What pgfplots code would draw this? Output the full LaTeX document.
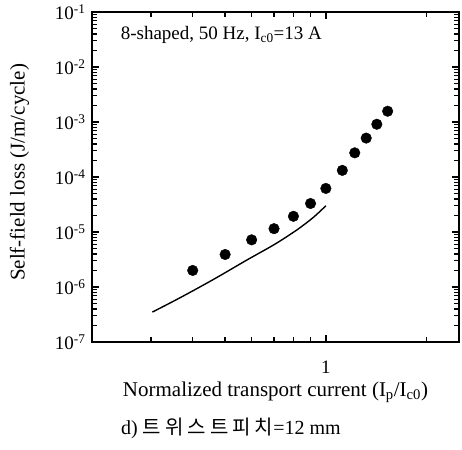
\documentclass[border=0pt]{standalone}
\usepackage{pgfplots}
\pgfplotsset{compat=1.18}
\usepackage{fontspec}
\setmainfont{Liberation Serif}
\newfontfamily\kr[LetterSpace=20]{Noto Sans CJK KR}

\begin{document}
\begin{tikzpicture}
\begin{axis}[
    xmode=log, ymode=log,
    scale only axis,
    width=367pt, height=330pt,
    xmin=0.2, xmax=2.5,
    ymin=1e-7, ymax=1e-1,
    clip=false,
    axis line style={line width=1.2pt},
    every tick/.style={black, line width=1.3pt},
    major tick length=7pt, minor tick length=5pt,
    xtick={1}, xticklabels={1},
    minor xtick={0.3,0.4,0.5,0.6,0.7,0.8,0.9,2},
    ytick={1e-7,1e-6,1e-5,1e-4,1e-3,1e-2,1e-1},
    yticklabels={10\textsuperscript{-7},10\textsuperscript{-6},10\textsuperscript{-5},10\textsuperscript{-4},10\textsuperscript{-3},10\textsuperscript{-2},10\textsuperscript{-1}},
    tick label style={font=\fontsize{19}{22}\selectfont},
    xticklabel style={anchor=center, yshift=-25pt},
    yticklabel style={xshift=-3pt},
    xlabel={Normalized transport current (I\textsubscript{p}/I\textsubscript{c0})},
    ylabel={Self-field loss (J/m/cycle)},
    xlabel style={at={(axis description cs:0.5,-0.152)}, anchor=center, font=\fontsize{21}{24}\selectfont},
    ylabel style={at={(axis description cs:-0.1975,0.514)}, anchor=center, font=\fontsize{21}{24}\selectfont},
]
% measured losses
\addplot[only marks, mark=*, mark size=5.3pt, black] coordinates {
    (0.40,2.0e-6) (0.50,3.9e-6) (0.60,7.2e-6) (0.70,1.15e-5)
    (0.80,1.93e-5) (0.90,3.3e-5) (1.00,6.2e-5) (1.12,1.32e-4)
    (1.22,2.75e-4) (1.32,5.1e-4) (1.42,9.1e-4) (1.53,1.57e-3)
};
% calculated curve
\addplot[black, line width=1.4pt, smooth] coordinates {
    (0.303,3.5e-7) (0.367,6.4e-7) (0.462,1.38e-6) (0.581,3.1e-6)
    (0.703,5.97e-6) (0.819,1.09e-5) (0.918,1.85e-5) (1.0,3.0e-5)
};
\node[anchor=west, inner sep=0, font=\fontsize{19}{22}\selectfont]
    at (axis description cs:0.078,0.930) {8-shaped, 50 Hz, I\textsubscript{c0}=13 A};
\node[anchor=west, inner sep=0, font=\fontsize{20}{24}\selectfont]
    at (axis description cs:0.079,-0.261) {d) {\kr 트위스트피치}=12 mm};
\end{axis}
\path ([shift={(-92pt,-107pt)}]current axis.south west) rectangle ([shift={(370pt,342pt)}]current axis.south west);
\end{tikzpicture}
\end{document}
